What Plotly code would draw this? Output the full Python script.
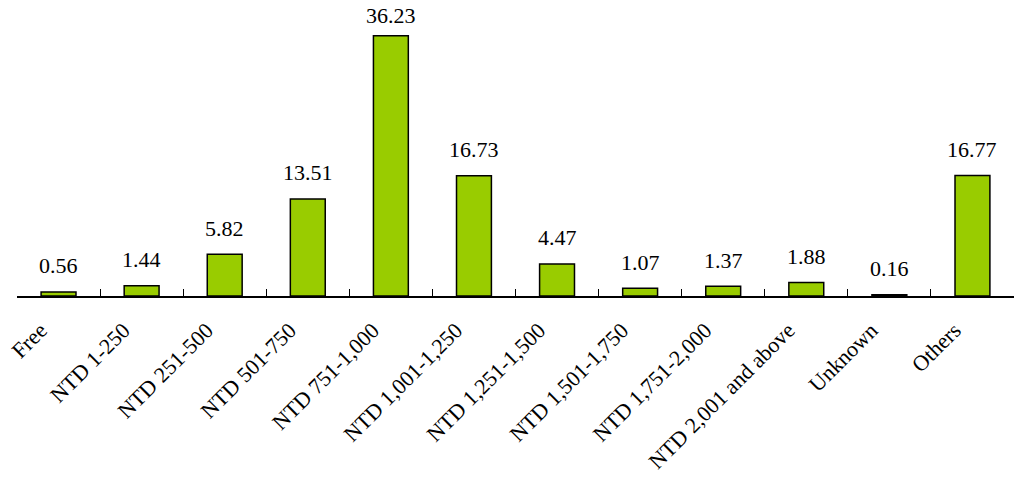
import plotly.graph_objects as go

categories = ["Free", "NTD 1-250", "NTD 251-500", "NTD 501-750", "NTD 751-1,000",
              "NTD 1,001-1,250", "NTD 1,251-1,500", "NTD 1,501-1,750", "NTD 1,751-2,000",
              "NTD 2,001 and above", "Unknown", "Others"]
values = [0.56, 1.44, 5.82, 13.51, 36.23, 16.73, 4.47, 1.07, 1.37, 1.88, 0.16, 16.77]

FONT = "Times New Roman, Liberation Serif, Tinos, serif"
Y_MAX = 41.2
PLOT_H = 483 - 187  # plot-area height in px

fig = go.Figure(go.Bar(
    x=categories, y=values,
    marker=dict(color="#99CC00", line=dict(color="black", width=1.5)),
    width=0.42,
    cliponaxis=False,
))
for c, v in zip(categories, values):
    room = PLOT_H * (1 - v / Y_MAX)          # px between bar top and figure top
    shift = min(26, room - 15)               # keep label inside the figure
    fig.add_annotation(x=c, y=v, text=f"{v:.2f}", showarrow=False,
                       yanchor="middle", yshift=shift,
                       font=dict(family=FONT, size=22, color="black"))
fig.update_layout(
    width=1020, height=483,
    margin=dict(l=17, r=6, t=0, b=187, autoexpand=False),
    plot_bgcolor="white", paper_bgcolor="white",
    showlegend=False,
    font=dict(family=FONT, color="black"),
    xaxis=dict(type="category", showline=True, linecolor="black", linewidth=1.5,
               ticks="inside", ticklen=7, tickcolor="black", tickson="boundaries",
               tickangle=-45, tickfont=dict(size=22, family=FONT, color="black"),
               ticklabelstandoff=11, ticklabelshift=-18,
               showgrid=False, automargin=False),
    yaxis=dict(range=[0, Y_MAX], visible=False, showgrid=False, zeroline=False),
)
fig.write_html("out.html", config={"displayModeBar": False},
               post_script="document.body.style.margin='0';")
